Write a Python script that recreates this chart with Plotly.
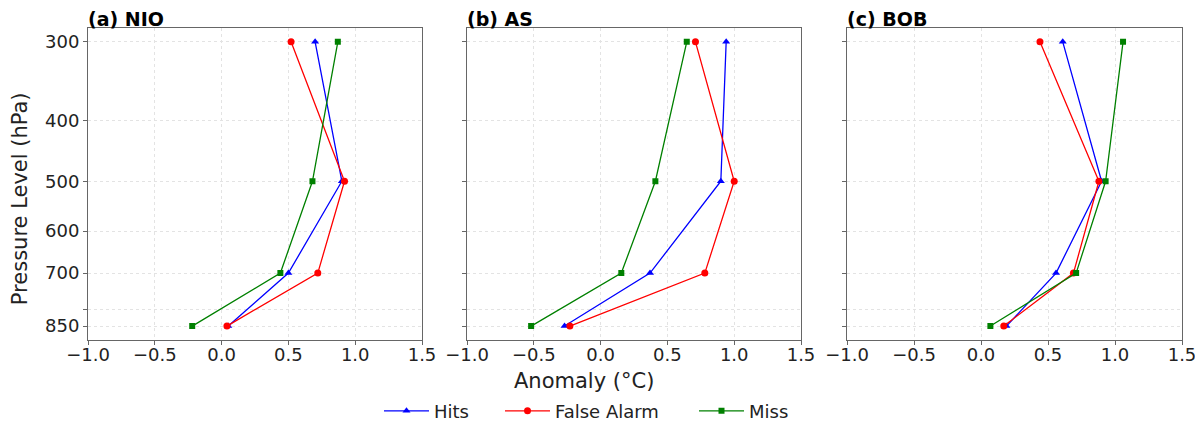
# Temperature anomaly profiles for NIO / AS / BOB: hits, false alarms, misses
import plotly.graph_objects as go
from plotly.subplots import make_subplots

levels = [300, 500, 700, 850]
regions = ["(a) NIO", "(b) AS", "(c) BOB"]

hits = [
    [0.70, 0.90, 0.50, 0.05],
    [0.94, 0.90, 0.37, -0.27],
    [0.61, 0.90, 0.56, 0.19],
]
false_alarm = [
    [0.52, 0.92, 0.72, 0.04],
    [0.71, 1.00, 0.78, -0.23],
    [0.44, 0.88, 0.69, 0.17],
]
miss = [
    [0.87, 0.68, 0.44, -0.22],
    [0.645, 0.41, 0.155, -0.52],
    [1.06, 0.93, 0.71, 0.07],
]

ytick_vals = [300, 400, 500, 600, 700, 800, 850]
ytick_text = ["300", "400", "500", "600", "700", "", "850"]
xtick_vals = [-1.0, -0.5, 0.0, 0.5, 1.0, 1.5]
xtick_text = ["\u22121.0", "\u22120.5", "0.0", "0.5", "1.0", "1.5"]

series = [
    ("Hits", hits, "blue", "triangle-up", 7, "legend"),
    ("False Alarm", false_alarm, "red", "circle", 7, "legend2"),
    ("Miss", miss, "green", "square", 6, "legend3"),
]

W, H = 1195, 422  # page body has an 8px margin

fig = make_subplots(rows=1, cols=3)

for i in range(3):
    for name, data, col, sym, sz, lg in series:
        fig.add_trace(go.Scatter(
            x=data[i], y=levels, mode="lines+markers", name=name,
            line=dict(color=col, width=1.3),
            marker=dict(color=col, symbol=sym, size=sz),
            showlegend=(i == 0), legend=lg,
        ), row=1, col=i + 1)

domains = [[80 / W, 414 / W], [459 / W, 793 / W], [839 / W, 1174 / W]]
ydom = [(H - 335) / H, (H - 20) / H]
axis_style = dict(showgrid=True, gridcolor="#e3e3e3", griddash="dot", gridwidth=1,
                  showline=True, linecolor="#666", linewidth=1, mirror=True,
                  ticks="outside", ticklen=4, tickcolor="#666", zeroline=False,
                  automargin=False, tickfont=dict(size=18, color="#222"))
for i in range(3):
    xa = "xaxis" if i == 0 else "xaxis%d" % (i + 1)
    ya = "yaxis" if i == 0 else "yaxis%d" % (i + 1)
    fig.update_layout(**{
        xa: dict(domain=domains[i], range=[-1.0, 1.5], tickvals=xtick_vals,
                 ticktext=xtick_text, ticklabelstandoff=-5, **axis_style),
        ya: dict(domain=ydom, type="log", range=[2.9513, 2.4548],
                 tickvals=ytick_vals,
                 ticktext=ytick_text if i == 0 else [""] * len(ytick_vals),
                 **axis_style),
    })

annotations = []
for i, r in enumerate(regions):
    annotations.append(dict(text="<b>%s</b>" % r, x=domains[i][0] - 1 / W, y=ydom[1] - 3 / H,
                            xref="paper", yref="paper", xanchor="left", yanchor="bottom",
                            borderpad=0, showarrow=False, font=dict(size=19, color="black")))
annotations.append(dict(text="Pressure Level (hPa)", x=12 / W, y=(H - 193) / H,
                        xref="paper", yref="paper", xanchor="center", yanchor="middle",
                        textangle=-90, showarrow=False, font=dict(size=21, color="#222")))
annotations.append(dict(text="Anomaly (\u00b0C)", x=575.5 / W, y=(H - 377) / H,
                        xref="paper", yref="paper", xanchor="center", yanchor="middle",
                        showarrow=False, font=dict(size=21, color="#222")))

leg = dict(orientation="h", y=(H - 407) / H, yanchor="middle", xanchor="left",
           font=dict(size=18), itemwidth=45, bgcolor="rgba(0,0,0,0)")
fig.update_layout(
    width=W, height=H,
    margin=dict(l=0, r=0, t=0, b=0),
    plot_bgcolor="white", paper_bgcolor="white",
    font=dict(family="DejaVu Sans", color="#222"),
    annotations=annotations,
    legend=dict(x=371 / W, **leg),
    legend2=dict(x=492 / W, **leg),
    legend3=dict(x=686 / W, **leg),
)

fig.write_html("out.html")
